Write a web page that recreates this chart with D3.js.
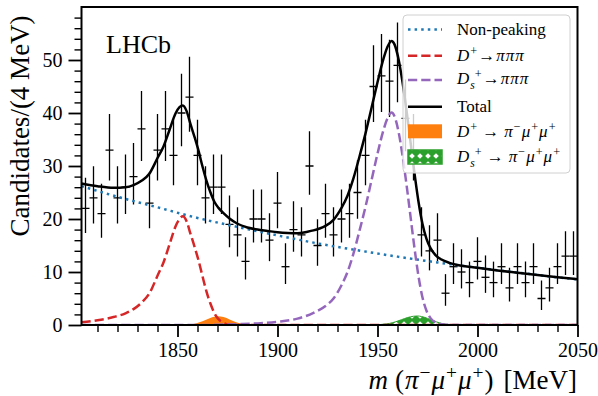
<!DOCTYPE html>
<html><head><meta charset="utf-8">
<script src="https://cdn.jsdelivr.net/npm/d3@7"></script>
<style>body{margin:0;background:#fff}svg{display:block}text{font-family:"Liberation Serif","Times New Roman",serif;fill:#000}</style>
</head><body><svg id="c" width="598" height="396"></svg>
<script>
// ---- data ----
const binCenters = [1804,1808,1812,1816,1820,1824,1828,1832,1836,1840,1844,1848,1852,1856,1860,1864,1868,1872,1876,1880,1884,1888,1892,1896,1900,1904,1908,1912,1916,1920,1924,1928,1932,1936,1940,1944,1948,1952,1956,1960,1964,1968,1972,1976,1980,1984,1988,1992,1996,2000,2004,2008,2012,2016,2020,2024,2028,2032,2036,2040,2044,2048];
const counts = [22,24,21,33,24,26,28,37,23,33,37,32,40,43,32,24,26,26,19,17,12,20,20,16,23,11,18,17,30,15,21,17,20,21,25,32,45,47,46,49,39,33,17,14,16,6,11,10,8,12,9,8,11,7,11,8,11,5,7,11,13,13];
const binHalfWidth = 2;

const bkgM = [1802,1820,1840,1860,1880,1900,1920,1940,1960,1980,2000,2020,2040,2050];
const bkgV = [26.2,24.2,22.2,20.2,18.5,16.9,15.4,14.1,12.9,11.8,10.8,9.9,9.0,8.6];

const dpM = [1802,1810,1818,1824,1828,1832,1836,1840,1843,1846,1849,1851,1852.7,1854.5,1856.5,1858.5,1860.5,1862.5,1864.5,1866.5,1868.5,1870.5,1873,1876,1880,1890,2050];
const dpV = [0.5,0.9,1.5,2.2,3.0,4.2,6.0,9.3,11.8,15.2,18.6,20.0,20.5,19.6,17.2,14.8,12.2,9.2,6.3,4.0,2.2,1.1,0.4,0.1,0.02,0,0];

const dsM = [1802,1860,1870,1880,1890,1900,1910,1918,1924,1928,1932,1935,1938,1941,1944,1947,1950,1953,1955,1957,1958.5,1960.5,1962.5,1964.5,1966.5,1968.5,1970.5,1972.5,1974.5,1976.5,1979,1982,1986,1995,2050];
const dsV = [0,0,0.05,0.15,0.3,0.6,1.2,2.3,3.6,5.0,7.5,10.0,13.5,17.8,22.3,27.3,32.3,36.8,39.0,40.1,39.4,36.5,32.0,26.5,20.5,14.5,9.2,5.2,2.7,1.3,0.5,0.15,0.03,0,0];

const totM = [1802,1810,1818,1824,1828,1832,1836,1840,1843,1846,1849,1851,1852.7,1854.5,1856.5,1858.5,1860.5,1862.5,1864.5,1866.5,1868.5,1870.5,1873,1876,1880,1885,1890,1895,1900,1905,1910,1915,1918,1921,1924,1928,1932,1935,1938,1941,1944,1947,1950,1953,1955,1957,1958.5,1960.5,1962.5,1964.5,1966.5,1968.5,1970.5,1972.5,1974.5,1976.5,1979,1982,1986,1990,2000,2010,2020,2030,2040,2050];
const totV = [26.7,26.2,25.9,26.0,26.4,27.2,28.6,31.5,33.7,36.8,39.9,41.1,41.4,40.4,37.9,35.5,32.9,29.9,27.2,25.0,23.2,22.1,21.1,20.1,19.1,18.4,18.0,17.75,17.5,17.35,17.3,17.6,17.85,18.2,18.7,19.85,22.1,24.4,27.7,31.8,36.15,40.95,45.8,50.25,52.5,53.6,52.95,50.2,45.85,40.5,34.55,28.6,23.25,19.05,16.25,14.5,13.2,12.35,11.73,11.33,10.8,10.3,9.86,9.43,9.02,8.63];

const sigDpM = [1850,1855,1858,1861,1864,1867,1870,1873,1876,1879,1882,1885,1890];
const sigDpV = [0,0.05,0.2,0.5,0.95,1.4,1.65,1.5,1.05,0.55,0.22,0.07,0];
const sigDsM = [1946,1950,1953,1956,1959,1962,1965,1968,1970,1972,1975,1978,1981,1984,1988,1992];
const sigDsV = [0,0.04,0.15,0.3,0.6,1.0,1.4,1.65,1.7,1.6,1.25,0.8,0.4,0.15,0.04,0];

const xMajor = [1850,1900,1950,2000,2050];
const yMajor = [0,10,20,30,40,50];

// ---- layout ----
const svg = d3.select("#c");
const L = 81.5, R = 577.5, T = 7, B = 325;
const x = d3.scaleLinear().domain([1802,2050]).range([L,R]);
const y = d3.scaleLinear().domain([0,60]).range([B,T]);
const C = {blue:"#1f77b4", red:"#d62728", purple:"#9467bd", orange:"#ff7f0e", green:"#2ca02c"};

const defs = svg.append("defs");
defs.append("clipPath").attr("id","clip").append("rect").attr("x",L).attr("y",T).attr("width",R-L).attr("height",B-T);
const pat = defs.append("pattern").attr("id","hatch").attr("patternUnits","userSpaceOnUse").attr("width",8).attr("height",8);
pat.append("rect").attr("width",8).attr("height",8).attr("fill",C.green);
pat.append("path").attr("d","M4,1.2L6.8,4L4,6.8L1.2,4Z").attr("fill","#fff");

const zip = (a,b)=>a.map((m,i)=>[m,b[i]]);
const line = d3.line().x(d=>x(d[0])).y(d=>y(d[1])).curve(d3.curveMonotoneX);
const area = d3.area().x(d=>x(d[0])).y0(y(0)).y1(d=>y(d[1])).curve(d3.curveMonotoneX);

const plot = svg.append("g").attr("clip-path","url(#clip)");
plot.append("path").attr("d",area(zip(sigDpM,sigDpV))).attr("fill",C.orange);
plot.append("path").attr("d",area(zip(sigDsM,sigDsV))).attr("fill","url(#hatch)").attr("stroke",C.green).attr("stroke-width",1);

// data points with Poisson (Gehrels) error bars
const pts = plot.append("g").attr("stroke","#000").attr("stroke-width",1.3);
counts.forEach((n,i)=>{
  const m = binCenters[i];
  const up = n + Math.sqrt(n+0.75) + 1;
  const lo = n>0 ? n*Math.pow(1 - 1/(9*n) - 1/(3*Math.sqrt(n)),3) : 0;
  pts.append("line").attr("x1",x(m)).attr("x2",x(m)).attr("y1",y(lo)).attr("y2",y(up));
  pts.append("line").attr("x1",x(m-binHalfWidth)).attr("x2",x(m+binHalfWidth)).attr("y1",y(n)).attr("y2",y(n));
});

plot.append("path").attr("d",line(zip(bkgM,bkgV))).attr("fill","none").attr("stroke",C.blue).attr("stroke-width",2.5).attr("stroke-dasharray","2.5,4.1");
plot.append("path").attr("d",line(zip(dpM,dpV))).attr("fill","none").attr("stroke",C.red).attr("stroke-width",2.5).attr("stroke-dasharray","9.25,4");
plot.append("path").attr("d",line(zip(dsM,dsV))).attr("fill","none").attr("stroke",C.purple).attr("stroke-width",2.5).attr("stroke-dasharray","9.25,4");
plot.append("path").attr("d",line(zip(totM,totV))).attr("fill","none").attr("stroke","#000").attr("stroke-width",2.5);

// axes
function styleAxis(g){ g.select(".domain").remove(); g.selectAll("line").attr("stroke","#000"); g.selectAll("text").attr("font-family","Liberation Serif").attr("font-size",20).attr("fill","#000"); }
svg.append("g").attr("transform",`translate(0,${B})`)
  .call(d3.axisBottom(x).tickValues(d3.range(1810,2050,10).filter(v=>v%50)).tickSize(7).tickFormat(""))
  .call(styleAxis).selectAll("line").attr("stroke-width",1.4);
svg.append("g").attr("transform",`translate(0,${B})`)
  .call(d3.axisBottom(x).tickValues(xMajor).tickSize(12).tickPadding(6).tickFormat(d3.format("d")))
  .call(styleAxis).selectAll("line").attr("stroke-width",1.8);
svg.append("g").attr("transform",`translate(${L},0)`)
  .call(d3.axisLeft(y).tickValues(d3.range(2,60,2).filter(v=>v%10)).tickSize(7).tickFormat(""))
  .call(styleAxis).selectAll("line").attr("stroke-width",1.4);
svg.append("g").attr("transform",`translate(${L},0)`)
  .call(d3.axisLeft(y).tickValues(yMajor).tickSize(13).tickPadding(6).tickFormat(d3.format("d")))
  .call(styleAxis).selectAll("line").attr("stroke-width",1.8);

svg.append("rect").attr("x",L).attr("y",T).attr("width",R-L).attr("height",B-T).attr("fill","none").attr("stroke","#000").attr("stroke-width",2);

// math text helper
function mtext(parent, px, py, size, parts, anchor){
  const t = parent.append("text").attr("x",px).attr("y",py).attr("font-size",size).attr("text-anchor",anchor||"start");
  let cur = 0;
  parts.forEach(p=>{
    const [s,o,gap] = p; const opt = o||"";
    let shift = 0, fs = size;
    if(opt.includes("sup")){ shift = -0.36*size; fs = 0.72*size; }
    if(opt.includes("sub")){ shift = 0.28*size; fs = 0.68*size; }
    const ts = t.append("tspan").text(s).attr("font-size",fs).attr("dy",shift-cur);
    if(opt.includes("i")) ts.attr("font-style","italic");
    if(gap) ts.attr("dx",gap);
    cur = shift;
  });
  return t;
}

svg.append("text").attr("x",106).attr("y",53).attr("font-size",26).text("LHCb");
svg.append("text").attr("transform","translate(29,126) rotate(-90)").attr("text-anchor","middle").attr("font-size",27).text("Candidates/(4 MeV)");
mtext(svg, 577, 389, 27, [["m","i"],["(","",7],["π","i",1],["−","sup",1],["μ","i",1],["+","sup",1],["μ","i",1],["+","sup",1],[")","",1],["[MeV]","",10]], "end");

// legend
const lg = svg.append("g");
lg.append("rect").attr("x",403).attr("y",15).attr("width",167).attr("height",158).attr("rx",4)
  .attr("fill","#fff").attr("fill-opacity",0.8).attr("stroke","#d0d0d0").attr("stroke-width",1);
const hx1 = 408, hx2 = 442, tx = 457, fs = 17;
lg.append("line").attr("x1",hx1).attr("x2",hx2).attr("y1",29.5).attr("y2",29.5).attr("stroke",C.blue).attr("stroke-width",2.5).attr("stroke-dasharray","2.5,4.1");
lg.append("text").attr("x",tx).attr("y",35).attr("font-size",fs).text("Non-peaking");
lg.append("line").attr("x1",hx1).attr("x2",hx2).attr("y1",55.7).attr("y2",55.7).attr("stroke",C.red).attr("stroke-width",2.5).attr("stroke-dasharray","9.25,4");
mtext(lg, tx, 61, fs, [["D","i"],["+","sup",1],["→","",1],["π","i",1],["π","i",1],["π","i",1]]);
lg.append("line").attr("x1",hx1).attr("x2",hx2).attr("y1",80).attr("y2",80).attr("stroke",C.purple).attr("stroke-width",2.5).attr("stroke-dasharray","9.25,4");
mtext(lg, tx, 84, fs, [["D","i"],["s","i sub",1],["+","sup",0],["→","",1],["π","i",1],["π","i",1],["π","i",1]]);
lg.append("line").attr("x1",hx1).attr("x2",hx2).attr("y1",106.7).attr("y2",106.7).attr("stroke","#000").attr("stroke-width",2.5);
lg.append("text").attr("x",tx).attr("y",112).attr("font-size",fs).text("Total");
lg.append("rect").attr("x",hx1).attr("y",124.3).attr("width",hx2-hx1).attr("height",14).attr("fill",C.orange);
mtext(lg, tx, 137, fs, [["D","i"],["+","sup",1],["→","",5],["π","i",5],["−","sup",1],["μ","i",1],["+","sup",1],["μ","i",1],["+","sup",1]]);
lg.append("rect").attr("x",hx1).attr("y",150).attr("width",hx2-hx1).attr("height",14).attr("fill","url(#hatch)").attr("stroke",C.green).attr("stroke-width",1.5);
mtext(lg, tx, 162, fs, [["D","i"],["s","i sub",1],["+","sup",0],["→","",5],["π","i",5],["−","sup",1],["μ","i",1],["+","sup",1],["μ","i",1],["+","sup",1]]);
</script></body></html>
